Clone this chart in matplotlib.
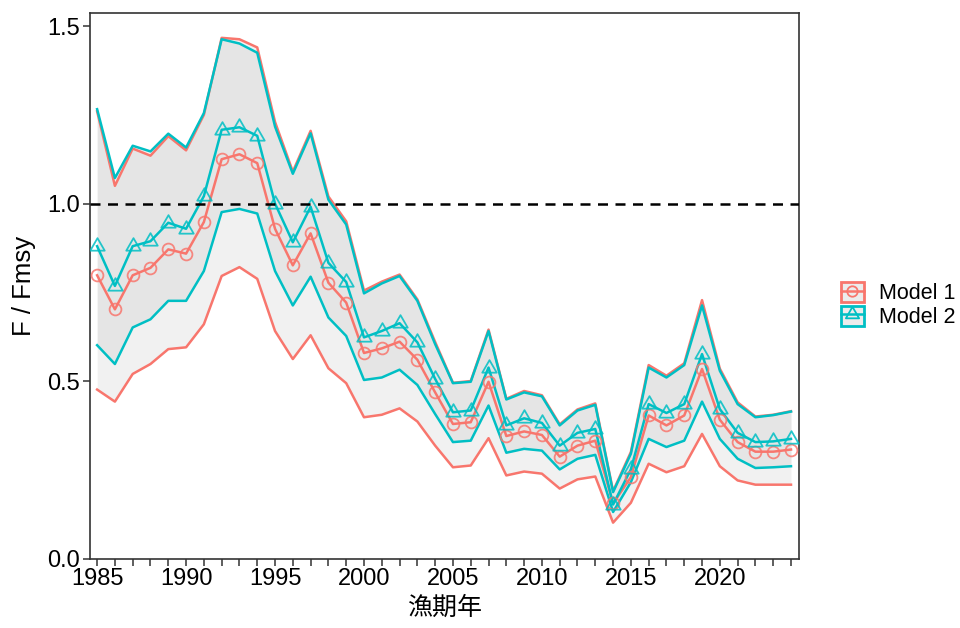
import matplotlib
matplotlib.use("Agg")
import matplotlib.pyplot as plt
from matplotlib.patches import Patch
from matplotlib.lines import Line2D
from matplotlib.path import Path
import numpy as np

plt.rcParams['font.family'] = ['Liberation Sans', 'DejaVu Sans']

years = list(range(1985, 2025))

m1_med = [0.798, 0.702, 0.798, 0.819, 0.871, 0.859, 0.948, 1.125, 1.139, 1.114,
          0.929, 0.826, 0.916, 0.777, 0.721, 0.579, 0.592, 0.611, 0.560, 0.468,
          0.379, 0.384, 0.498, 0.345, 0.358, 0.348, 0.287, 0.318, 0.332, 0.155,
          0.229, 0.403, 0.375, 0.403, 0.534, 0.391, 0.328, 0.301, 0.301, 0.307]
m1_up = [1.260, 1.050, 1.155, 1.135, 1.190, 1.150, 1.250, 1.467, 1.463, 1.440,
         1.230, 1.090, 1.205, 1.020, 0.950, 0.755, 0.780, 0.800, 0.730, 0.610,
         0.495, 0.500, 0.645, 0.450, 0.472, 0.460, 0.378, 0.420, 0.437, 0.190,
         0.300, 0.545, 0.515, 0.550, 0.728, 0.535, 0.440, 0.400, 0.405, 0.415]
m1_lo = [0.476, 0.442, 0.520, 0.548, 0.590, 0.595, 0.660, 0.796, 0.821, 0.788,
         0.641, 0.562, 0.629, 0.536, 0.494, 0.398, 0.405, 0.423, 0.386, 0.318,
         0.257, 0.262, 0.339, 0.234, 0.245, 0.239, 0.197, 0.223, 0.231, 0.101,
         0.157, 0.267, 0.243, 0.260, 0.351, 0.260, 0.220, 0.208, 0.208, 0.208]

m2_med = [0.880, 0.768, 0.880, 0.894, 0.946, 0.929, 1.021, 1.208, 1.215, 1.191,
          1.000, 0.891, 0.991, 0.833, 0.779, 0.623, 0.641, 0.663, 0.609, 0.506,
          0.412, 0.417, 0.538, 0.375, 0.395, 0.382, 0.318, 0.354, 0.365, 0.152,
          0.251, 0.435, 0.410, 0.435, 0.576, 0.421, 0.354, 0.328, 0.330, 0.337]
m2_up = [1.266, 1.072, 1.163, 1.147, 1.197, 1.158, 1.255, 1.463, 1.451, 1.425,
         1.217, 1.084, 1.198, 1.011, 0.941, 0.747, 0.775, 0.796, 0.726, 0.604,
         0.494, 0.498, 0.641, 0.448, 0.468, 0.457, 0.375, 0.417, 0.433, 0.187,
         0.295, 0.538, 0.510, 0.545, 0.713, 0.529, 0.435, 0.398, 0.404, 0.414]
m2_lo = [0.601, 0.548, 0.651, 0.674, 0.726, 0.726, 0.810, 0.976, 0.985, 0.972,
         0.810, 0.713, 0.794, 0.679, 0.627, 0.503, 0.510, 0.532, 0.489, 0.407,
         0.328, 0.332, 0.431, 0.298, 0.309, 0.304, 0.251, 0.281, 0.292, 0.131,
         0.215, 0.337, 0.314, 0.332, 0.442, 0.337, 0.281, 0.255, 0.257, 0.260]

labels = ["Model 1", "Model 2"]
colors = ["#F8766D", "#00BFC4"]
xticks = [1985, 1990, 1995, 2000, 2005, 2010, 2015, 2020]
yticks = [0.0, 0.5, 1.0, 1.5]

# R-style triangle (centroid at data point)
tri = Path([(0, 1), (-0.866, -0.5), (0.866, -0.5), (0, 1)],
           [Path.MOVETO, Path.LINETO, Path.LINETO, Path.CLOSEPOLY])
markers = ["o", tri]
msizes = [8.5, 12]

fig = plt.figure(figsize=(9.6, 6.28), dpi=100)
ax = fig.add_axes([90/960, 1 - 558.5/628, (799-90)/960, (558.5-13)/628])

series = [(m1_med, m1_up, m1_lo), (m2_med, m2_up, m2_lo)]
for (med, up, lo) in series:
    ax.fill_between(years, lo, up, color="#808080", alpha=0.105, lw=0, zorder=1)
for (med, up, lo), c in zip(series, colors):
    ax.plot(years, up, color=c, lw=1.8, zorder=3)
    ax.plot(years, lo, color=c, lw=1.8, zorder=3)
for (med, up, lo), c, m, ms in zip(series, colors, markers, msizes):
    ax.plot(years, med, color=c, lw=1.8, zorder=4)
    ax.plot(years, med, linestyle="none", marker=m, ms=ms, mfc="none",
            mec=c, mew=1.3, alpha=0.85, zorder=5)

ax.axhline(1.0, color="black", lw=1.8, ls=(0, (4, 3)), zorder=6)

ax.set_xlim(1984.6, 2024.45)
ax.set_ylim(0, 1.537)
ax.set_xticks(xticks)
ax.set_xticks(years, minor=True)
ax.set_yticks(yticks)
ax.set_yticklabels([f"{v:.1f}" for v in yticks])
for s in ax.spines.values():
    s.set_color("#333333")
    s.set_linewidth(1.2)
ax.tick_params(which="both", direction="out", length=5, width=1.1,
               color="#333333", labelsize=17, labelcolor="black", pad=2)

ax.set_ylabel("F / Fmsy", fontsize=18.5, labelpad=8)
ax.set_xlabel("漁期年", fontsize=18, labelpad=3,
              family=["Noto Sans CJK JP", "DejaVu Sans"])

handles = []
for c, m, ms in zip(colors, markers, msizes):
    p = Patch(facecolor="#ececec", edgecolor=c, lw=2.0)
    l = Line2D([], [], color=c, lw=1.8, marker=m, ms=ms - 1, mfc="none", mec=c, mew=1.3)
    handles.append((p, l))
fig.legend(handles, labels, loc="center left",
           bbox_to_anchor=(841/960, 1 - 305/628), frameon=False,
           fontsize=15.5, handlelength=1.05, handleheight=1.05,
           handletextpad=0.7, labelspacing=0.05, borderpad=0, borderaxespad=0)

fig.savefig("out.png", dpi=100)
